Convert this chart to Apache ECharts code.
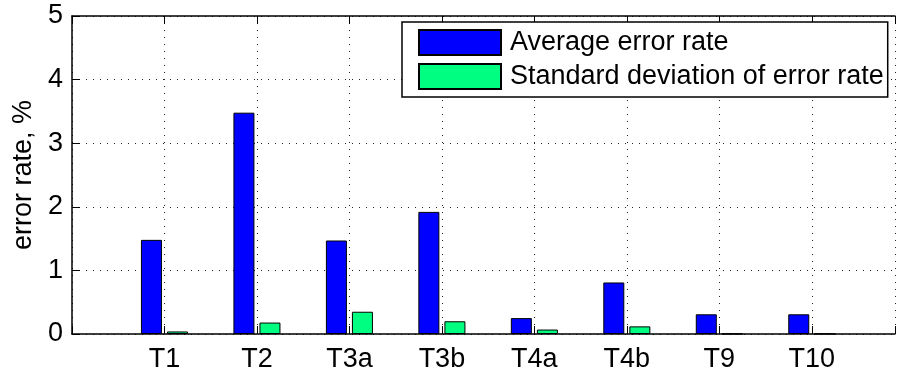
<!DOCTYPE html>
<html>
<head>
<meta charset="utf-8">
<script src="https://cdn.jsdelivr.net/npm/echarts@6/dist/echarts.min.js"></script>
<style>
html,body{margin:0;padding:0;background:#fff;}
#chart{width:898px;height:373px;}
</style>
</head>
<body>
<div id="chart"></div>
<script>
var categories = ['T1', 'T2', 'T3a', 'T3b', 'T4a', 'T4b', 'T9', 'T10'];
var avgErrorRate = [1.48, 3.48, 1.47, 1.92, 0.25, 0.81, 0.31, 0.31];
var stdErrorRate = [0.04, 0.18, 0.35, 0.20, 0.07, 0.12, 0.004, 0.004];
var yTicks = [0, 1, 2, 3, 4, 5];
var seriesNames = ['Average error rate', 'Standard deviation of error rate'];

var FONT = '"Liberation Sans", Arial, Helvetica, sans-serif';
var FS = 27;

function pairs(vals) {
  return vals.map(function (v, i) { return [i + 1, v]; });
}

var chart = echarts.init(document.getElementById('chart'), null, { renderer: 'canvas' });
var dotted = { color: '#222', width: 1, type: [1, 6] };
var axisLineStyle = { color: '#000', width: 1.5 };

chart.setOption({
  animation: false,
  backgroundColor: '#fff',
  textStyle: { fontFamily: FONT, color: '#000' },
  grid: { left: 72, top: 16, right: 0, bottom: 38, containLabel: false },
  legend: {
    orient: 'vertical',
    left: 402,
    top: 22,
    padding: [7, 4, 7, 16],
    itemGap: 7,
    itemWidth: 82,
    itemHeight: 25,
    borderColor: '#000',
    borderWidth: 1.5,
    borderRadius: 0,
    backgroundColor: '#fff',
    icon: 'rect',
    data: seriesNames,
    textStyle: { fontSize: FS, color: '#000', fontFamily: FONT, padding: [0, 0, 0, 4] }
  },
  xAxis: [
    {
      type: 'value',
      position: 'bottom',
      min: 0,
      max: 8.9,
      interval: 1,
      axisLine: { show: true, onZero: false, lineStyle: axisLineStyle },
      axisTick: { show: true, inside: true, length: 8, lineStyle: { color: '#000' } },
      axisLabel: {
        fontSize: FS, color: '#000', fontFamily: FONT, margin: 12,
        formatter: function (v) { var i = Math.round(v) - 1; return (i >= 0 && i < categories.length && Math.abs(v - Math.round(v)) < 1e-6) ? categories[i] : ''; }
      },
      splitLine: { show: true, lineStyle: dotted }
    },
    {
      type: 'value',
      position: 'top',
      min: 0,
      max: 8.9,
      interval: 1,
      axisLine: { show: true, onZero: false, lineStyle: axisLineStyle },
      axisTick: { show: true, inside: true, length: 8, lineStyle: { color: '#000' } },
      axisLabel: { show: false },
      splitLine: { show: false }
    }
  ],
  yAxis: {
    type: 'value',
    min: yTicks[0],
    max: yTicks[yTicks.length - 1],
    interval: 1,
    name: 'error rate, %',
    nameLocation: 'middle',
    nameGap: 34,
    nameTextStyle: { fontSize: FS, color: '#000', fontFamily: FONT },
    axisLine: { show: true, onZero: false, lineStyle: axisLineStyle },
    axisTick: { show: true, inside: true, length: 8, lineStyle: { color: '#000' } },
    axisLabel: { fontSize: FS, color: '#000', fontFamily: FONT, margin: 9 },
    splitLine: { show: true, lineStyle: dotted }
  },
  series: [
    {
      name: seriesNames[0],
      type: 'bar',
      xAxisIndex: 0,
      barWidth: 21,
      barGap: '24%',
      itemStyle: { color: '#0000ff', borderColor: '#000', borderWidth: 1 },
      data: pairs(avgErrorRate)
    },
    {
      name: seriesNames[1],
      type: 'bar',
      xAxisIndex: 0,
      barWidth: 21,
      barGap: '24%',
      itemStyle: { color: '#00ff80', borderColor: '#000', borderWidth: 1 },
      data: pairs(stdErrorRate)
    }
  ]
});
</script>
</body>
</html>
